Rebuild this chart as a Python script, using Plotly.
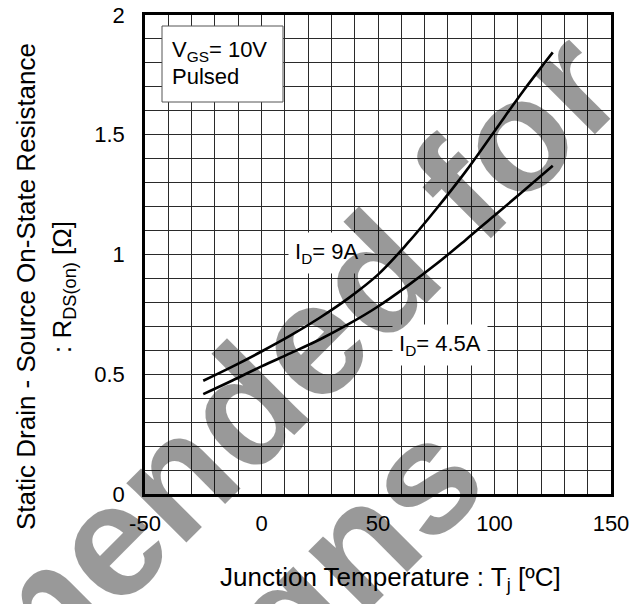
import plotly.graph_objects as go

# ---- data ----
temp_c = [-25, -12.5, 0, 12.5, 25, 37.5, 50, 62.5, 75, 87.5, 100, 112.5, 125]
rds_9a = [0.473, 0.532, 0.595, 0.662, 0.736, 0.819, 0.916, 1.045, 1.19,
          1.345, 1.515, 1.685, 1.844]
rds_4p5a = [0.417, 0.474, 0.533, 0.588, 0.645, 0.71, 0.783, 0.868, 0.96,
            1.06, 1.163, 1.266, 1.371]

series_names = ["I<sub>D</sub>= 9A", "I<sub>D</sub>= 4.5A"]
x_tick_labels = ["-50", "0", "50", "100", "150"]

# ---- geometry: page pixels (the page body has an 8px margin) ----
PAGE_OFF = 8
W, H = 641 - PAGE_OFF, 604 - PAGE_OFF
PLOT_L, PLOT_R, PLOT_T, PLOT_B = 145, 611, 15, 494   # page coordinates
L = PLOT_L - PAGE_OFF
T = PLOT_T - PAGE_OFF
R = W - (PLOT_R - PAGE_OFF)
B = H - (PLOT_B - PAGE_OFF)
PW, PH = PLOT_R - PLOT_L, PLOT_B - PLOT_T


def px(x):
    return (x - PLOT_L) / PW


def py(y):
    return (PLOT_B - y) / PH


FONT = "Liberation Sans, Arial, sans-serif"

fig = go.Figure()
for vals in (rds_9a, rds_4p5a):
    fig.add_trace(go.Scatter(
        x=temp_c, y=vals, mode="lines",
        line=dict(color="black", width=2.6, shape="spline", smoothing=1.0),
        showlegend=False, hoverinfo="skip"))

grid_col = "#2a2a2a"
fig.update_xaxes(
    range=[-50, 150], tickmode="linear", tick0=-50, dtick=50,
    labelalias={"\u221250": x_tick_labels[0]},
    showgrid=True, gridcolor=grid_col, gridwidth=1,
    minor=dict(dtick=10, showgrid=True, gridcolor=grid_col, gridwidth=1),
    showline=True, linecolor="black", linewidth=2.5, mirror=True,
    zeroline=False, ticks="", ticklabelstandoff=8, ticklabeloverflow="allow",
    automargin=False,
    tickfont=dict(family=FONT, size=22, color="black"))
fig.update_yaxes(
    range=[0, 2], tickmode="linear", tick0=0, dtick=0.5,
    showgrid=True, gridcolor=grid_col, gridwidth=1,
    minor=dict(dtick=0.1, showgrid=True, gridcolor=grid_col, gridwidth=1),
    showline=True, linecolor="black", linewidth=2.5, mirror=True,
    zeroline=False, ticks="", ticklabelstandoff=13, ticklabeloverflow="allow",
    automargin=False,
    tickfont=dict(family=FONT, size=22, color="black"))

annotations = []
# axis titles
annotations.append(dict(
    text="Junction Temperature : T<sub>j</sub> [ºC]", xref="paper", yref="paper",
    x=px(390), y=py(578), xanchor="center", yanchor="middle", showarrow=False,
    font=dict(family=FONT, size=26, color="black")))
annotations.append(dict(
    text="Static Drain - Source On-State Resistance", xref="paper", yref="paper",
    x=px(26), y=py(287), xanchor="center", yanchor="middle", showarrow=False,
    textangle=-90, font=dict(family=FONT, size=26, color="black")))
annotations.append(dict(
    text=": R<sub>DS(on)</sub> [Ω]", xref="paper", yref="paper",
    x=px(63), y=py(287), xanchor="center", yanchor="middle", showarrow=False,
    textangle=-90, font=dict(family=FONT, size=26, color="black")))

# condition box text
annotations.append(dict(
    text="V<sub>GS</sub>= 10V", xref="paper", yref="paper",
    x=px(170), y=py(51), xanchor="left", yanchor="middle", showarrow=False,
    font=dict(family=FONT, size=22, color="black")))
annotations.append(dict(
    text="Pulsed", xref="paper", yref="paper",
    x=px(170), y=py(77), xanchor="left", yanchor="middle", showarrow=False,
    font=dict(family=FONT, size=22, color="black")))

# series labels
annotations.append(dict(
    text=series_names[0], xref="paper", yref="paper",
    x=px(326), y=py(253), xanchor="center", yanchor="middle", showarrow=False,
    bgcolor="white", borderpad=6,
    font=dict(family=FONT, size=22, color="black")))
annotations.append(dict(
    text=series_names[1], xref="paper", yref="paper",
    x=px(440), y=py(345), xanchor="center", yanchor="middle", showarrow=False,
    bgcolor="white", borderpad=6,
    font=dict(family=FONT, size=22, color="black")))

# watermark
wm_font = dict(family=FONT, size=160, color="rgba(0,0,0,0.4)", weight="bold")
annotations.append(dict(
    text="Not Recommended for", xref="paper", yref="paper",
    x=px(-15), y=py(665), xanchor="center", yanchor="middle", showarrow=False,
    textangle=-45, font=wm_font))
annotations.append(dict(
    text="New Designs", xref="paper", yref="paper",
    x=px(101), y=py(799), xanchor="center", yanchor="middle", showarrow=False,
    textangle=-45, font=wm_font))

shapes = [dict(
    type="rect", xref="paper", yref="paper",
    x0=px(162), x1=px(283), y0=py(102), y1=py(26),
    line=dict(color="#555555", width=1), fillcolor="white", layer="above")]

fig.update_layout(
    width=W, height=H, margin=dict(l=L, r=R, t=T, b=B, autoexpand=False),
    paper_bgcolor="white", plot_bgcolor="white",
    font=dict(family=FONT, color="black"),
    annotations=annotations, shapes=shapes, showlegend=False)

fig.write_html("out.html")
